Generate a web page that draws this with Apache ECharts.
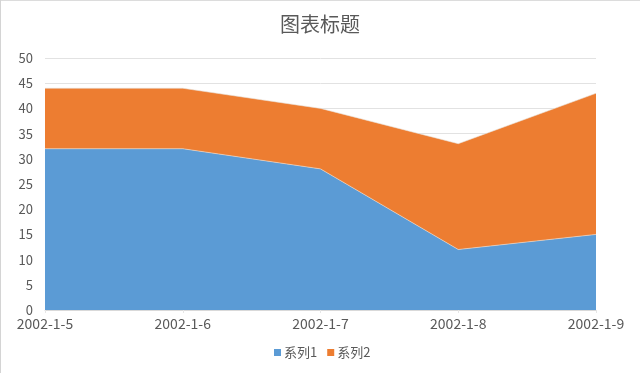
<!DOCTYPE html>
<html><head><meta charset="utf-8">
<script src="https://cdn.jsdelivr.net/npm/echarts@6/dist/echarts.min.js"></script>
<style>html,body{margin:0;padding:0;background:#fff}#c{width:640px;height:373px;box-sizing:border-box;position:relative}
#c:before{content:"";position:absolute;left:0;top:0;width:640px;height:1px;background:#dcdcdc;z-index:5}
#c:after{content:"";position:absolute;left:0;top:0;width:1px;height:373px;background:#d4d4d4;z-index:5}</style>
</head><body><div id="c"></div>
<script>
const titleText = '图表标题';
const categories = ['2002-1-5','2002-1-6','2002-1-7','2002-1-8','2002-1-9'];
const series1 = [32,32,28,12,15];
const series2 = [12,12,12,21,28];
const font = '"Noto Sans CJK SC","Noto Sans",sans-serif';
const chart = echarts.init(document.getElementById('c'),null,{renderer:'canvas'});
const mk = (name,data,color)=>({name,type:'line',stack:'a',data,symbol:'none',showSymbol:false,
  lineStyle:{width:0.6,color:'#e8e0d8'},itemStyle:{color},areaStyle:{color,opacity:1}});
chart.setOption({
  animation:false,
  title:{text:titleText,left:'center',top:9,itemGap:0,textStyle:{fontFamily:font,fontSize:20,fontWeight:'normal',color:'#595959'}},
  legend:{bottom:9,left:269,icon:'rect',itemWidth:7,itemHeight:7,itemGap:10,
    textStyle:{fontFamily:font,fontSize:13,color:'#595959',padding:[0,0,0,-2]},data:['系列1','系列2']},
  grid:{left:45,right:44,top:58,bottom:63,containLabel:false},
  xAxis:{type:'category',boundaryGap:false,data:categories,
    axisLine:{lineStyle:{color:'#d9d9d9'}},axisTick:{show:true,length:3,lineStyle:{color:'#e6e6e6'}},
    axisLabel:{fontFamily:font,fontSize:14,color:'#595959',margin:7,hideOverlap:false,showMinLabel:true,showMaxLabel:true,alignMinLabel:'center',alignMaxLabel:'center'}},
  yAxis:{type:'value',min:0,max:50,interval:5,
    axisLine:{show:false},axisTick:{show:false},
    splitLine:{lineStyle:{color:'#e2e2e2',width:1}},
    axisLabel:{fontFamily:font,fontSize:13,color:'#595959',margin:12}},
  series:[mk('系列1',series1,'#5b9bd5'),mk('系列2',series2,'#ed7d31')]
});
</script></body></html>
